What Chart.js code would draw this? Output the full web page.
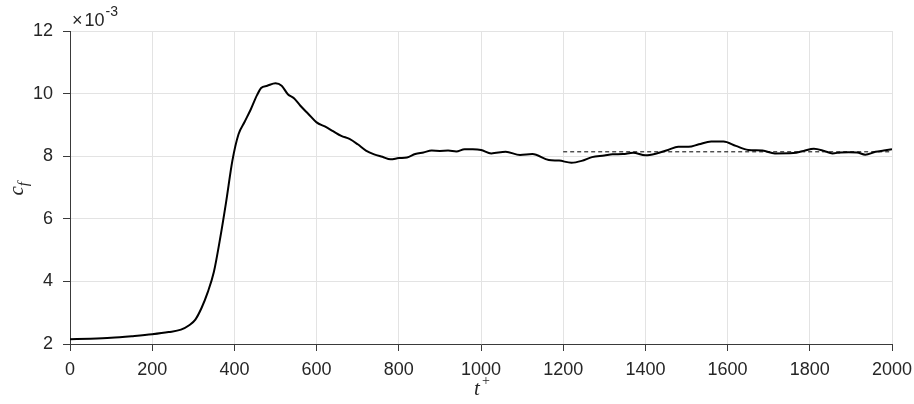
<!DOCTYPE html>
<html>
<head>
<meta charset="utf-8">
<title>c_f vs t+</title>
<script src="https://cdn.jsdelivr.net/npm/chart.js@4.4.1/dist/chart.umd.min.js"></script>
<style>
  html, body { margin: 0; padding: 0; background: #fff; }
  #wrap { width: 914px; height: 404px; }
</style>
</head>
<body>
<div id="wrap"><canvas id="cfChart" width="914" height="404"></canvas></div>
<script>
// skin friction history, c_f in units of 1e-3
var tPlus = [0, 50, 100, 150, 200, 240, 270, 290, 305, 320, 335, 350, 365, 380, 395,
  410, 425, 440, 455, 465, 480, 500, 515, 530, 545, 560, 580, 600, 620, 640, 660, 680,
  700, 720, 740, 760, 780, 800, 820, 840, 860, 880, 900, 920, 940, 960, 980, 1000, 1025,
  1060, 1095, 1125, 1165, 1190, 1220, 1245, 1270, 1300, 1320, 1345, 1370, 1400, 1425,
  1455, 1480, 1505, 1530, 1560, 1590, 1620, 1650, 1685, 1715, 1760, 1785, 1810, 1835,
  1855, 1875, 1895, 1915, 1935, 1960, 1980, 2000];
var cfValues = [2.15, 2.17, 2.20, 2.25, 2.31, 2.38, 2.46, 2.60, 2.78, 3.15, 3.65, 4.30,
  5.35, 6.55, 7.85, 8.70, 9.10, 9.50, 9.95, 10.18, 10.25, 10.33, 10.25, 9.98, 9.85, 9.62,
  9.35, 9.08, 8.95, 8.80, 8.65, 8.55, 8.38, 8.18, 8.06, 7.98, 7.90, 7.94, 7.96, 8.07,
  8.12, 8.18, 8.17, 8.18, 8.15, 8.22, 8.22, 8.20, 8.09, 8.14, 8.04, 8.07, 7.88, 7.86,
  7.79, 7.85, 7.97, 8.02, 8.06, 8.07, 8.11, 8.03, 8.08, 8.20, 8.30, 8.30, 8.38, 8.47,
  8.47, 8.33, 8.20, 8.18, 8.09, 8.10, 8.17, 8.24, 8.17, 8.09, 8.12, 8.13, 8.12, 8.05,
  8.14, 8.18, 8.22];

// time-averaged value over the statistically steady part
var meanRange = [1200, 2000];
var meanCf = 8.14;

var xTickValues = [0, 200, 400, 600, 800, 1000, 1200, 1400, 1600, 1800, 2000];
var yTickValues = [2, 4, 6, 8, 10, 12];

var curve = tPlus.map(function(t, i) { return { x: t, y: cfValues[i] }; });
var meanLine = meanRange.map(function(t) { return { x: t, y: meanCf }; });

var textColor = '#262626';
var axisColor = '#3a3a3a';
var gridColor = '#e3e3e3';
var tickFont = { family: '"Liberation Sans", Arial, sans-serif', size: 18 };

var labelsPlugin = {
  id: 'mathLabels',
  afterDraw: function(chart) {
    var ctx = chart.ctx;
    var area = chart.chartArea;
    ctx.save();
    ctx.fillStyle = textColor;

    // exponent marker above the y axis
    ctx.textAlign = 'left';
    ctx.textBaseline = 'alphabetic';
    ctx.font = '18px "Liberation Sans", Arial, sans-serif';
    ctx.fillText('\u00d7', area.left + 2, 26);
    var xw = ctx.measureText('\u00d7').width;
    ctx.fillText('10', area.left + 4 + xw, 26);
    var w = ctx.measureText('10').width;
    ctx.font = '14px "Liberation Sans", Arial, sans-serif';
    ctx.fillText('-3', area.left + 5 + xw + w, 16);

    // x axis title: t^+
    var cx = (area.left + area.right) / 2;
    ctx.font = 'italic 21px "Liberation Serif", "DejaVu Serif", serif';
    ctx.textAlign = 'center';
    ctx.fillText('t', cx - 4, 395);
    ctx.font = '14px "Liberation Serif", "DejaVu Serif", serif';
    ctx.fillText('+', cx + 5, 385);

    // y axis title: c_f
    ctx.translate(23, (area.top + area.bottom) / 2);
    ctx.rotate(-Math.PI / 2);
    ctx.textAlign = 'left';
    ctx.font = 'italic 21px "Liberation Serif", "DejaVu Serif", serif';
    ctx.fillText('c', -8, 0);
    var cw = ctx.measureText('c').width;
    ctx.font = 'italic 15px "Liberation Serif", "DejaVu Serif", serif';
    ctx.fillText('f', -8 + cw, 5);
    ctx.restore();
  }
};

var ctx = document.getElementById('cfChart');

var cfChart = new Chart(ctx, {
  type: 'line',
  data: {
    datasets: [
      {
        label: 'c_f',
        data: curve,
        borderColor: '#000',
        borderWidth: 2,
        pointRadius: 0,
        fill: false,
        cubicInterpolationMode: 'monotone'
      },
      {
        label: 'mean',
        data: meanLine,
        borderColor: '#000',
        borderWidth: 1,
        borderDash: [4, 3],
        pointRadius: 0,
        fill: false
      }
    ]
  },
  options: {
    responsive: false,
    animation: false,
    events: [],
    layout: { padding: { left: 0, top: 31, right: 22, bottom: 0 } },
    plugins: {
      legend: { display: false },
      tooltip: { enabled: false }
    },
    scales: {
      x: {
        type: 'linear',
        min: 0,
        max: 2000,
        afterBuildTicks: function(scale) {
          scale.ticks = xTickValues.map(function(v) { return { value: v }; });
        },
        afterFit: function(scale) {
          scale.height = 60;
          // last label may hang over the right padding
          scale.paddingLeft = 0;
          scale.paddingRight = 0;
        },
        grid: { color: gridColor, tickColor: axisColor, tickLength: 7, lineWidth: 1 },
        border: { color: axisColor, width: 1 },
        ticks: {
          color: textColor,
          padding: 8,
          maxRotation: 0,
          font: tickFont,
          callback: function(v) { return String(v); }
        }
      },
      y: {
        type: 'linear',
        min: 2,
        max: 12,
        afterBuildTicks: function(scale) {
          scale.ticks = yTickValues.map(function(v) { return { value: v }; });
        },
        afterFit: function(scale) {
          scale.width = 70;
          scale.paddingTop = 0;
          scale.paddingBottom = 0;
        },
        grid: { color: gridColor, tickColor: axisColor, tickLength: 7, lineWidth: 1 },
        border: { color: axisColor, width: 1 },
        ticks: {
          color: textColor,
          padding: 10,
          font: tickFont,
          callback: function(v) { return String(v); }
        }
      }
    }
  },
  plugins: [labelsPlugin]
});
</script>
</body>
</html>
